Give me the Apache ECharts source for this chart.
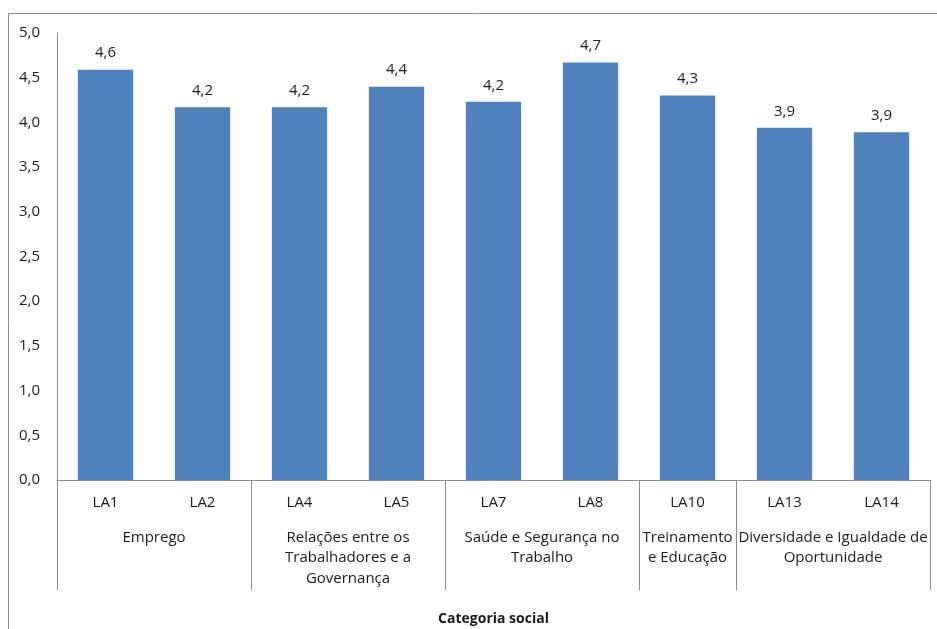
<!DOCTYPE html>
<html>
<head>
<meta charset="utf-8">
<script src="https://cdn.jsdelivr.net/npm/echarts@6/dist/echarts.min.js"></script>
<style>
  html, body { margin: 0; padding: 0; background: #ffffff; }
  #chart { width: 937px; height: 629px; }
</style>
</head>
<body>
<div id="chart"></div>
<script>
// Indicator codes (one bar each)
const indicators = ['LA1', 'LA2', 'LA4', 'LA5', 'LA7', 'LA8', 'LA10', 'LA13', 'LA14'];
// Mean score per indicator
const scores = [4.59, 4.17, 4.17, 4.40, 4.23, 4.67, 4.30, 3.94, 3.89];
// Social categories and how many indicators each one spans
const groupNames = [
  'Emprego',
  'Relações entre os\nTrabalhadores e a\nGovernança',
  'Saúde e Segurança no\nTrabalho',
  'Treinamento\ne Educação',
  'Diversidade e Igualdade de\nOportunidade'
];
const groupSizes = [2, 2, 2, 1, 2];
// Value axis tick values
const yTicks = [0, 0.5, 1, 1.5, 2, 2.5, 3, 3.5, 4, 4.5, 5];

// Group boundaries and centres along the category band (in category units)
const boundaries = [0];
const centres = [];
const centreName = {};
groupSizes.forEach((n, i) => {
  const start = boundaries[boundaries.length - 1];
  const c = start + n / 2;
  centres.push(c);
  centreName[c] = groupNames[i];
  boundaries.push(start + n);
});

const fontFamily = '"Open Sans", "Noto Sans", sans-serif';
const fontSize = 15;
const axisGray = '#8c8c8c';
const textColor = '#1a1a1a';
const fmt = v => v.toFixed(1).replace('.', ',');

const chart = echarts.init(document.getElementById('chart'), null, { renderer: 'canvas' });
chart.setOption({
  animation: false,
  backgroundColor: '#ffffff',
  textStyle: { fontFamily: fontFamily },
  graphic: [{
    type: 'rect',
    shape: { x: 8.5, y: 13.5, width: 960, height: 660 },
    style: { fill: 'none', stroke: '#8a8a8a', lineWidth: 1 },
    silent: true,
    z: -1
  }],
  grid: {
    left: 57, right: 7, top: 33, bottom: 149,
    containLabel: false,
    outerBoundsMode: 'none'
  },
  xAxis: [{
    type: 'category',
    data: indicators,
    axisLine: { show: true, lineStyle: { color: axisGray, width: 1 } },
    axisTick: { show: false },
    axisLabel: { color: textColor, fontSize: fontSize, margin: 15, fontFamily: fontFamily },
    splitLine: { show: false }
  }, {
    type: 'value',
    position: 'bottom',
    min: 0,
    max: indicators.length,
    axisLine: { show: false },
    axisTick: {
      show: true,
      customValues: boundaries,
      length: 110,
      lineStyle: { color: axisGray, width: 1 }
    },
    axisLabel: {
      customValues: centres,
      formatter: v => centreName[v] || '',
      color: textColor,
      fontSize: fontSize,
      lineHeight: 20.5,
      verticalAlign: 'top',
      margin: 47,
      fontFamily: fontFamily
    },
    splitLine: { show: false },
    name: 'Categoria social',
    nameLocation: 'middle',
    nameGap: 132,
    nameTextStyle: { color: textColor, fontSize: 14, fontWeight: 'bold', fontFamily: fontFamily }
  }],
  yAxis: {
    type: 'value',
    min: yTicks[0],
    max: yTicks[yTicks.length - 1],
    interval: 0.5,
    axisLine: { show: true, lineStyle: { color: axisGray, width: 1 } },
    axisTick: { show: false },
    axisLabel: { color: textColor, fontSize: fontSize, margin: 17, formatter: fmt, fontFamily: fontFamily },
    splitLine: { show: false }
  },
  series: [{
    type: 'bar',
    xAxisIndex: 0,
    data: scores,
    barWidth: '57%',
    itemStyle: { color: '#4f81bd' },
    label: {
      show: true,
      position: 'top',
      distance: 9,
      color: textColor,
      fontSize: fontSize,
      fontFamily: fontFamily,
      formatter: p => fmt(p.value)
    }
  }]
});
</script>
</body>
</html>
